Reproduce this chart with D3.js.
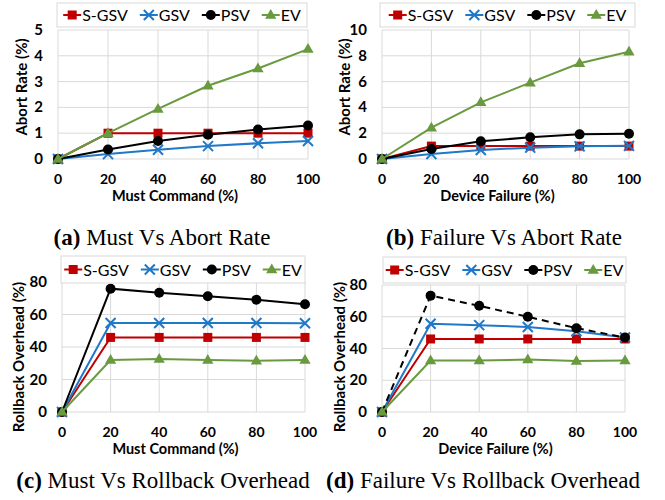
<!DOCTYPE html>
<html>
<head>
<meta charset="utf-8">
<script src="https://cdn.jsdelivr.net/npm/d3@7"></script>
<style>
  body { margin: 0; background: #fff; }
  svg { display: block; }
</style>
</head>
<body>
<div id="chart"></div>
<script>
// data
const xValues = [0, 20, 40, 60, 80, 100];
const seriesNames = ["S-GSV", "GSV", "PSV", "EV"];

// (a) Must Command vs Abort Rate
const mustAbortSGSV = [0, 1.0, 1.0, 1.0, 1.0, 1.0];
const mustAbortGSV  = [0, 0.19, 0.36, 0.50, 0.61, 0.70];
const mustAbortPSV  = [0, 0.37, 0.70, 0.94, 1.14, 1.30];
const mustAbortEV   = [0, 1.0, 1.94, 2.84, 3.51, 4.26];

// (b) Device Failure vs Abort Rate
const failAbortSGSV = [0, 1.0, 1.0, 1.0, 1.0, 1.0];
const failAbortGSV  = [0, 0.39, 0.70, 0.88, 0.98, 1.02];
const failAbortPSV  = [0, 0.78, 1.37, 1.68, 1.91, 1.96];
const failAbortEV   = [0, 2.43, 4.39, 5.92, 7.42, 8.32];

// (c) Must Command vs Rollback Overhead
const mustRollSGSV = [0, 45.9, 45.9, 45.9, 45.9, 45.9];
const mustRollGSV  = [0, 54.8, 54.8, 54.8, 54.8, 54.6];
const mustRollPSV  = [0, 75.9, 73.4, 71.2, 69.1, 66.3];
const mustRollEV   = [0, 32.0, 32.6, 32.0, 31.6, 32.0];

// (d) Device Failure vs Rollback Overhead
const failRollSGSV = [0, 46.0, 46.0, 46.0, 46.0, 46.0];
const failRollGSV  = [0, 55.6, 54.7, 53.5, 50.9, 46.9];
const failRollPSV  = [0, 73.3, 66.9, 60.0, 52.8, 46.9];
const failRollEV   = [0, 32.4, 32.4, 33.0, 32.2, 32.4];

const yTicksA = [0, 1, 2, 3, 4, 5];
const yTicksB = [0, 2, 4, 6, 8, 10];
const yTicksC = [0, 20, 40, 60, 80];

const colors = { "S-GSV": "#C00000", "GSV": "#1F78C8", "PSV": "#000000", "EV": "#6A9A3F" };
const sans = "Lato, 'Open Sans', sans-serif";

const svg = d3.select("#chart").append("svg")
  .attr("width", 665)
  .attr("height", 500);

function drawMarker(g, name, x, y) {
  const c = colors[name];
  if (name === "S-GSV") {
    g.append("rect").attr("x", x - 4.5).attr("y", y - 4.5)
      .attr("width", 9).attr("height", 9).attr("fill", c);
  } else if (name === "GSV") {
    g.append("path")
      .attr("d", `M${x-5},${y-5}L${x+5},${y+5}M${x-5},${y+5}L${x+5},${y-5}`)
      .attr("stroke", c).attr("stroke-width", 2).attr("fill", "none");
  } else if (name === "PSV") {
    g.append("circle").attr("cx", x).attr("cy", y).attr("r", 5).attr("fill", c);
  } else {
    g.append("path")
      .attr("d", d3.symbol().type(d3.symbolTriangle).size(55)())
      .attr("transform", `translate(${x},${y + 0.5})`)
      .attr("fill", c);
  }
}

function drawPanel(p) {
  const x = d3.scaleLinear().domain([0, 100]).range([p.left, p.right]);
  const y = d3.scaleLinear().domain([0, d3.max(p.yTicks)]).range([p.bottom, p.top]);
  const g = svg.append("g");

  // grid
  g.selectAll(".hgrid").data(p.yTicks).enter().append("line")
    .attr("x1", p.left).attr("x2", p.right)
    .attr("y1", d => y(d)).attr("y2", d => y(d))
    .attr("stroke", "#D9D9D9").attr("stroke-width", 1);
  g.selectAll(".vgrid").data(xValues).enter().append("line")
    .attr("x1", d => x(d)).attr("x2", d => x(d))
    .attr("y1", p.top).attr("y2", p.bottom)
    .attr("stroke", "#D9D9D9").attr("stroke-width", 1);

  // tick labels
  g.selectAll(".ytick").data(p.yTicks).enter().append("text")
    .attr("x", p.left - 15).attr("y", d => y(d) + 5)
    .attr("text-anchor", "end")
    .style("font", `bold 15px ${sans}`)
    .text(d => d);
  g.selectAll(".xtick").data(xValues).enter().append("text")
    .attr("x", d => x(d)).attr("y", p.bottom + 25)
    .attr("text-anchor", "middle")
    .style("font", `bold 14px ${sans}`)
    .text(d => d);

  // axis titles
  g.append("text")
    .attr("x", (p.left + p.right) / 2 + p.xTitleShift).attr("y", p.bottom + 42)
    .attr("text-anchor", "middle")
    .style("font", `bold 14.5px ${sans}`)
    .text(p.xTitle);
  g.append("text")
    .attr("transform", `translate(${p.yTitleX},${p.yTitleY}) rotate(-90)`)
    .attr("text-anchor", "middle")
    .style("font", `bold 15px ${sans}`)
    .text(p.yTitle);

  // series
  const line = d3.line().x((d, i) => x(xValues[i])).y(d => y(d));
  seriesNames.forEach((name, k) => {
    const vals = p.series[k];
    g.append("path").datum(vals)
      .attr("d", line)
      .attr("fill", "none")
      .attr("stroke", colors[name])
      .attr("stroke-width", 2)
      .attr("stroke-dasharray", p.dashed === name ? "7,5" : null);
    vals.forEach((v, i) => drawMarker(g, name, x(xValues[i]), y(v)));
  });

  // legend box
  const lg = g.append("g");
  lg.append("rect")
    .attr("x", p.legend[0]).attr("y", p.legend[1])
    .attr("width", p.legend[2] - p.legend[0]).attr("height", p.legend[3] - p.legend[1])
    .attr("fill", "#fff").attr("stroke", "#D9D9D9");
  const items = seriesNames.map(name => {
    const it = lg.append("g");
    it.append("line").attr("x1", 0).attr("x2", 18).attr("y1", 0).attr("y2", 0)
      .attr("stroke", colors[name]).attr("stroke-width", 2);
    drawMarker(it, name, 9, 0);
    const t = it.append("text").attr("x", 19).attr("y", 6)
      .style("font", `16px ${sans}`).text(name);
    return { it, w: 19 + t.node().getComputedTextLength() };
  });
  const gap = 12;
  const total = d3.sum(items, d => d.w) + gap * (items.length - 1);
  let cx = (p.legend[0] + p.legend[2]) / 2 - total / 2;
  const cy = (p.legend[1] + p.legend[3]) / 2;
  items.forEach(d => {
    d.it.attr("transform", `translate(${cx},${cy})`);
    cx += d.w + gap;
  });

  // caption
  const cap = svg.append("text")
    .attr("x", p.capX).attr("y", p.capY)
    .attr("text-anchor", "middle")
    .style("font", "23px 'Liberation Serif', serif");
  cap.append("tspan").style("font-weight", "bold").text(p.capTag);
  cap.append("tspan").text(" " + p.caption);
}

drawPanel({
  left: 58, right: 308, top: 30, bottom: 159,
  yTicks: yTicksA,
  series: [mustAbortSGSV, mustAbortGSV, mustAbortPSV, mustAbortEV],
  legend: [57, 3, 307, 27],
  xTitle: "Must Command (%)", xTitleShift: -8,
  yTitle: "Abort Rate (%)", yTitleX: 27, yTitleY: 87,
  capTag: "(a)", caption: "Must Vs Abort Rate", capX: 162, capY: 245
});

drawPanel({
  left: 382, right: 629, top: 30, bottom: 159,
  yTicks: yTicksB,
  series: [failAbortSGSV, failAbortGSV, failAbortPSV, failAbortEV],
  legend: [380, 3, 635, 27],
  xTitle: "Device Failure (%)", xTitleShift: -8,
  yTitle: "Abort Rate (%)", yTitleX: 350, yTitleY: 87,
  capTag: "(b)", caption: "Failure Vs Abort Rate", capX: 504, capY: 245
});

drawPanel({
  left: 62, right: 305, top: 282, bottom: 412,
  yTicks: yTicksC,
  series: [mustRollSGSV, mustRollGSV, mustRollPSV, mustRollEV],
  legend: [61, 256, 305, 283],
  xTitle: "Must Command (%)", xTitleShift: -8,
  yTitle: "Rollback Overhead (%)", yTitleX: 24, yTitleY: 357,
  capTag: "(c)", caption: "Must Vs Rollback Overhead", capX: 163, capY: 488
});

drawPanel({
  left: 382, right: 625, top: 285, bottom: 412,
  yTicks: yTicksC,
  series: [failRollSGSV, failRollGSV, failRollPSV, failRollEV],
  legend: [383, 257, 626, 283],
  dashed: "PSV",
  xTitle: "Device Failure (%)", xTitleShift: -8,
  yTitle: "Rollback Overhead (%)", yTitleX: 345, yTitleY: 357,
  capTag: "(d)", caption: "Failure Vs Rollback Overhead", capX: 483, capY: 488
});
</script>
</body>
</html>
